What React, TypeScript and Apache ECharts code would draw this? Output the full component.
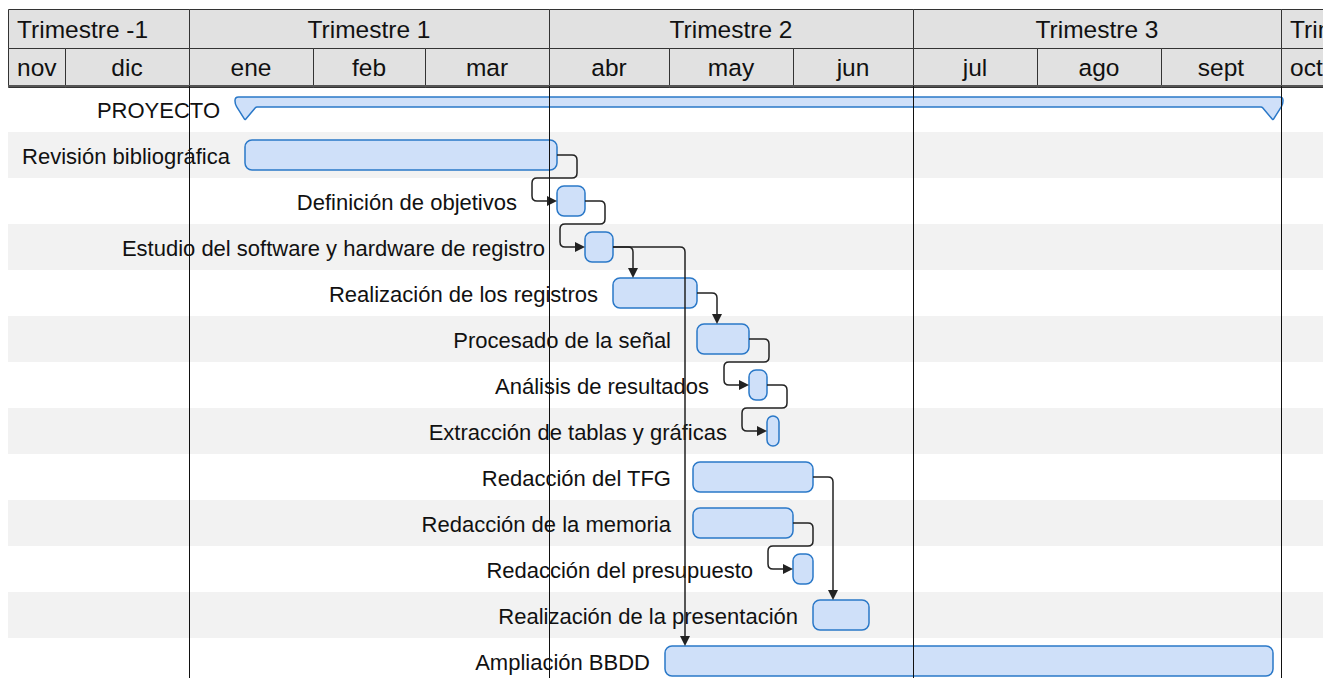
import React, { useEffect, useRef } from "react";
import * as echarts from "echarts";

// ---------- DATA (days counted from 1 Jan) ----------
const taskNames = [
  "PROYECTO",
  "Revisión bibliográfica",
  "Definición de objetivos",
  "Estudio del software y hardware de registro",
  "Realización de los registros",
  "Procesado de la señal",
  "Análisis de resultados",
  "Extracción de tablas y gráficas",
  "Redacción del TFG",
  "Redacción de la memoria",
  "Redacción del presupuesto",
  "Realización de la presentación",
  "Ampliación BBDD",
];
const taskStart = [14, 14, 92, 99, 106, 127, 140, 144.5, 126, 126, 151, 156, 119];
const taskEnd = [271, 92, 99, 106, 127, 140, 144.5, 147.5, 156, 151, 156, 170, 271];

const depFrom = [1, 2, 3, 3, 4, 5, 6, 8, 9];
const depTo = [2, 3, 4, 12, 5, 6, 7, 11, 10];

const quarterLabels = ["Trimestre -1", "Trimestre 1", "Trimestre 2", "Trimestre 3", "Trimestre 4"];
const quarterStart = [-92, 0, 90, 181, 273];
const quarterEnd = [0, 90, 181, 273, 365];

const monthLabels = ["nov", "dic", "ene", "feb", "mar", "abr", "may", "jun", "jul", "ago", "sept", "oct"];
const monthStart = [-61, -31, 0, 31, 59, 90, 120, 151, 181, 212, 243, 273];
const monthEnd = [-31, 0, 31, 59, 90, 120, 151, 181, 212, 243, 273, 304];

// ---------- STYLE ----------
const X_MIN = -45.25;
const X_MAX = 283.5;
const FONT = "'Liberation Sans', Arial, Helvetica, sans-serif";
const BAR_FILL = "#cfe0f9";
const BAR_STROKE = "#2a78c8";
const LINE = "#222";

const RoundPoly = echarts.graphic.extendShape({
  shape: { points: [] as number[][], r: 4, radii: null as any, closed: false },
  buildPath(ctx: any, shape: any) {
    const p = shape.points;
    const n = p.length;
    if (n < 2) return;
    const closed = shape.closed;
    const corner = (a: number[], b: number[], c: number[], first: boolean, r: number) => {
      if (r <= 0) {
        if (first) ctx.moveTo(b[0], b[1]);
        else ctx.lineTo(b[0], b[1]);
        return;
      }
      const d1 = Math.hypot(b[0] - a[0], b[1] - a[1]);
      const d2 = Math.hypot(c[0] - b[0], c[1] - b[1]);
      const rr = Math.min(r, d1 / 2, d2 / 2);
      const ax = b[0] - ((b[0] - a[0]) / d1) * rr;
      const ay = b[1] - ((b[1] - a[1]) / d1) * rr;
      const bx = b[0] + ((c[0] - b[0]) / d2) * rr;
      const by = b[1] + ((c[1] - b[1]) / d2) * rr;
      if (first) ctx.moveTo(ax, ay);
      else ctx.lineTo(ax, ay);
      ctx.quadraticCurveTo(b[0], b[1], bx, by);
    };
    const rad = (i: number) => (shape.radii ? shape.radii[i] : shape.r);
    if (!closed) {
      ctx.moveTo(p[0][0], p[0][1]);
      for (let i = 1; i < n - 1; i++) corner(p[i - 1], p[i], p[i + 1], false, rad(i));
      ctx.lineTo(p[n - 1][0], p[n - 1][1]);
    } else {
      for (let i = 0; i < n; i++) corner(p[(i - 1 + n) % n], p[i], p[(i + 1) % n], i === 0, rad(i));
      ctx.closePath();
    }
  },
});
echarts.graphic.registerShape("roundPoly", RoundPoly);

const isDown = (to: number) => (taskEnd[to] - taskStart[to]) * 4 >= 40;

export default function App() {
  const ref = useRef<HTMLDivElement>(null);

  useEffect(() => {
    if (!ref.current) return;
    const chart = echarts.init(ref.current, undefined, { renderer: "svg" });
    const bodyRows = 592 / 46;

    const headerItem = (labels: string[], starts: number[], ends: number[], row: number) =>
      (params: any, api: any) => {
        const i = api.value(0);
        const cs = params.coordSys;
        const p0 = api.coord([starts[i], row]);
        const p1 = api.coord([ends[i], row + 1]);
        const vx0 = Math.max(p0[0], cs.x);
        const vx1 = Math.min(p1[0], cs.x + cs.width + 40);
        if (vx1 <= vx0) return null;
        const clipped = p0[0] < cs.x || p1[0] > cs.x + cs.width;
        return {
          type: "group",
          children: [
            {
              type: "rect",
              shape: { x: Math.round(vx0) + 0.5, y: Math.round(p0[1]) + 0.5, width: Math.round(vx1 - vx0), height: Math.round(p1[1] - p0[1]) },
              style: { fill: "#e1e1e1", stroke: "#333", lineWidth: 1 },
            },
            {
              type: "text",
              style: {
                text: labels[i],
                x: clipped ? vx0 + 9 : (vx0 + vx1) / 2,
                y: (p0[1] + p1[1]) / 2 + 1,
                align: clipped ? "left" : "center",
                verticalAlign: "middle",
                font: `24.5px ${FONT}`,
                fill: "#111",
              },
            },
          ],
        };
      };

    const throughLines: { x: number; r0: number; r1: number }[] = [];
    depFrom.forEach((f, k) => {
      const t = depTo[k];
      if (isDown(t)) throughLines.push({ x: taskStart[t] + 5, r0: f, r1: t });
    });
    const hasLoopIn = (i: number) => depTo.some((t) => t === i && !isDown(t));

    const option: any = {
      animation: false,
      grid: [
        { left: 8, right: 0, top: 9, height: 77 },
        { left: 8, right: 0, top: 86, bottom: 0 },
      ],
      xAxis: [
        { type: "value", gridIndex: 0, min: X_MIN, max: X_MAX, show: false },
        { type: "value", gridIndex: 1, min: X_MIN, max: X_MAX, show: false },
      ],
      yAxis: [
        { type: "value", gridIndex: 0, min: 0, max: 2, inverse: true, show: false },
        { type: "value", gridIndex: 1, min: 0, max: bodyRows, inverse: true, show: false },
      ],
      series: [
        {
          type: "custom",
          xAxisIndex: 0,
          yAxisIndex: 0,
          data: quarterLabels.map((_, i) => [i]),
          renderItem: headerItem(quarterLabels, quarterStart, quarterEnd, 0),
          z: 2,
        },
        {
          type: "custom",
          xAxisIndex: 0,
          yAxisIndex: 0,
          data: monthLabels.map((_, i) => [i]),
          renderItem: headerItem(monthLabels, monthStart, monthEnd, 1),
          z: 2,
        },
        // header bottom rule
        {
          type: "custom",
          xAxisIndex: 0,
          yAxisIndex: 0,
          data: [[0]],
          renderItem: (params: any, api: any) => {
            const cs = params.coordSys;
            const y = cs.y + cs.height;
            return {
              type: "line",
              shape: { x1: cs.x, y1: y, x2: cs.x + cs.width, y2: y },
              style: { stroke: "#555", lineWidth: 2 },
            };
          },
          z: 3,
        },
        // row stripes
        {
          type: "custom",
          xAxisIndex: 1,
          yAxisIndex: 1,
          data: taskNames.map((_, i) => [i]),
          renderItem: (params: any, api: any) => {
            const i = api.value(0);
            if (i % 2 === 0) return null;
            const cs = params.coordSys;
            const y0 = api.coord([0, i])[1];
            const y1 = api.coord([0, i + 1])[1];
            return {
              type: "rect",
              shape: { x: cs.x, y: y0, width: cs.width, height: y1 - y0 },
              style: { fill: "#f2f2f2" },
            };
          },
          z: 1,
        },
        // tasks
        {
          type: "custom",
          xAxisIndex: 1,
          yAxisIndex: 1,
          data: taskNames.map((_, i) => [i]),
          renderItem: (params: any, api: any) => {
            const i = api.value(0);
            const yc = api.coord([0, i + 0.5])[1];
            const xs = api.coord([taskStart[i], 0])[0];
            const xe = api.coord([taskEnd[i], 0])[0];
            const children: any[] = [];
            let labelEnd: number;
            if (i === 0) {
              const top = yc - 12;
              const bot = yc - 2;
              const tip = yc + 11;
              children.push({
                type: "roundPoly",
                shape: {
                  closed: true,
                  radii: [6, 6, 3, 1, 1, 1, 1, 3],
                  points: [
                    [xs - 10, top],
                    [xe + 10, top],
                    [xe + 10, bot - 3],
                    [xe, tip],
                    [xe - 11, bot],
                    [xs + 11, bot],
                    [xs, tip],
                    [xs - 10, bot - 3],
                  ],
                },
                style: { fill: BAR_FILL, stroke: BAR_STROKE, lineWidth: 1.5 },
              });
              labelEnd = xs - 25;
            } else {
              children.push({
                type: "rect",
                shape: { x: xs, y: yc - 15, width: xe - xs, height: 30, r: Math.min(7, (xe - xs) / 2) },
                style: { fill: BAR_FILL, stroke: BAR_STROKE, lineWidth: 1.5 },
              });
              labelEnd = xs - (hasLoopIn(i) ? 40 : 15);
              throughLines.forEach((l) => {
                if (i > l.r0 && i < l.r1) {
                  const lx = api.coord([l.x, 0])[0];
                  if (lx < xs && xs - lx < 30) labelEnd = Math.min(labelEnd, lx - 14);
                }
              });
            }
            children.push({
              type: "text",
              style: {
                text: taskNames[i],
                x: labelEnd,
                y: yc + 1,
                align: "right",
                verticalAlign: "middle",
                font: `22px ${FONT}`,
                fill: "#111",
              },
            });
            return { type: "group", children };
          },
          z: 3,
        },
        // dependencies
        {
          type: "custom",
          xAxisIndex: 1,
          yAxisIndex: 1,
          data: depFrom.map((_, k) => [k]),
          renderItem: (params: any, api: any) => {
            const k = api.value(0);
            const f = depFrom[k];
            const t = depTo[k];
            const rowH = api.size([0, 1])[1];
            const yf = api.coord([0, f + 0.5])[1];
            const yt = api.coord([0, t + 0.5])[1];
            const xe = api.coord([taskEnd[f], 0])[0];
            const ts = api.coord([taskStart[t], 0])[0];
            let pts: number[][];
            let arrow: number[][];
            if (isDown(t)) {
              const ax = ts + 20;
              const tipY = yt - 15;
              pts = [
                [xe, yf],
                [ax, yf],
                [ax, tipY - 9],
              ];
              arrow = [
                [ax - 5, tipY - 10],
                [ax + 5, tipY - 10],
                [ax, tipY],
              ];
            } else {
              const by = yf + rowH / 2;
              pts = [
                [xe, yf],
                [xe + 20, yf],
                [xe + 20, by],
                [ts - 25, by],
                [ts - 25, yt],
                [ts - 9, yt],
              ];
              arrow = [
                [ts - 10, yt - 5],
                [ts - 10, yt + 5],
                [ts, yt],
              ];
            }
            return {
              type: "group",
              children: [
                {
                  type: "roundPoly",
                  shape: { points: pts, r: 5, closed: false },
                  style: { fill: null, stroke: LINE, lineWidth: 1.5 },
                },
                { type: "polygon", shape: { points: arrow }, style: { fill: LINE } },
              ],
            };
          },
          z: 4,
        },
        // quarter lines in body
        {
          type: "custom",
          xAxisIndex: 1,
          yAxisIndex: 1,
          data: quarterStart.map((_, i) => [i]),
          renderItem: (params: any, api: any) => {
            const i = api.value(0);
            const cs = params.coordSys;
            const x = Math.round(api.coord([quarterStart[i], 0])[0]) + 0.5;
            if (x <= cs.x + 1 || x >= cs.x + cs.width) return null;
            return {
              type: "line",
              shape: { x1: x, y1: cs.y, x2: x, y2: cs.y + cs.height },
              style: { stroke: "#111", lineWidth: 1 },
            };
          },
          z: 5,
        },
      ],
    };
    chart.setOption(option);
    return () => chart.dispose();
  }, []);

  return (
    <div
      ref={ref}
      style={{ position: "fixed", left: 0, top: 0, width: 1323, height: 678, background: "#fff" }}
    />
  );
}
